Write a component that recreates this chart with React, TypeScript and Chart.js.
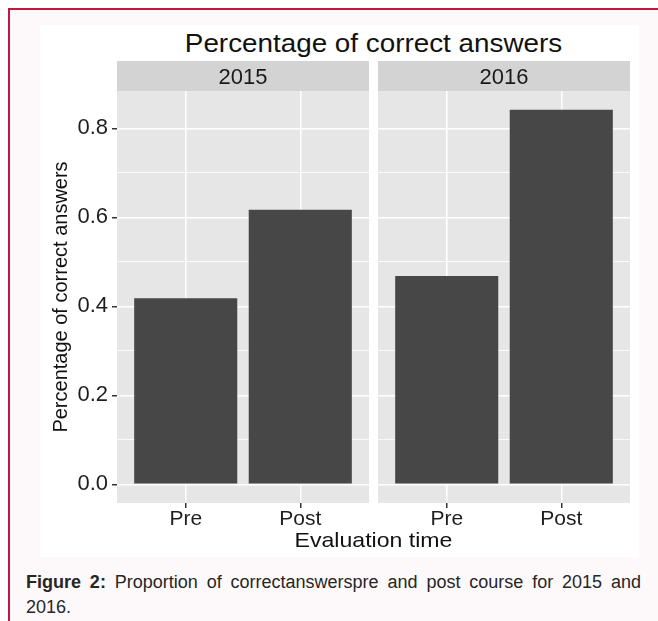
import React, { useEffect, useRef } from 'react';
import { Chart, registerables } from 'chart.js';

Chart.register(...registerables);

const FONT = "'Liberation Sans', Arial, Helvetica, sans-serif";

const categories = ['Pre', 'Post'];
const panelLabels = ['2015', '2016'];
const values2015 = [0.418, 0.617];
const values2016 = [0.468, 0.842];
const majorTicks = [0, 0.2, 0.4, 0.6, 0.8];
const minorTicks = [0.1, 0.3, 0.5, 0.7];
const chartTitle = 'Percentage of correct answers';
const yTitle = 'Percentage of correct answers';
const xTitle = 'Evaluation time';
const captionLead = 'Figure 2:';
const captionLine1 = ' Proportion of correctanswerspre and post course for 2015 and';
const captionLine2 = '2016.';

const allValues = [...values2015, ...values2016];
const yTop = Math.max(...allValues);
const yMin = -0.05 * yTop;
const yMax = yTop * 1.05;

const isMajor = (v: number) => majorTicks.some((m) => Math.abs(m - v) < 1e-9);

function makeChart(canvas: HTMLCanvasElement, label: string, values: number[], showY: boolean) {
  const stripPlugin = {
    id: 'strip',
    beforeDraw(chart: any) {
      const { ctx, chartArea: a } = chart;
      ctx.save();
      ctx.fillStyle = '#e6e6e6';
      ctx.fillRect(a.left, a.top, a.right - a.left, a.bottom - a.top);
      ctx.fillStyle = '#d3d3d3';
      ctx.fillRect(a.left, a.top - 30, a.right - a.left, 30);
      ctx.fillStyle = '#1a1a1a';
      ctx.font = `22px ${FONT}`;
      ctx.textAlign = 'center';
      ctx.textBaseline = 'alphabetic';
      ctx.fillText(label, (a.left + a.right) / 2, a.top - 7);
      ctx.restore();
    },
  };

  return new Chart(canvas, {
    type: 'bar',
    data: {
      datasets: [
        {
          data: values.map((v, i) => ({ x: i, y: v })),
          backgroundColor: '#474747',
          borderWidth: 0,
          categoryPercentage: 0.9,
          barPercentage: 1,
        },
      ],
    },
    plugins: [stripPlugin],
    options: {
      animation: false,
      responsive: true,
      maintainAspectRatio: false,
      layout: { padding: { top: 66, left: 0, right: 0, bottom: 0 } },
      plugins: { legend: { display: false }, tooltip: { enabled: false }, title: { display: false } },
      scales: {
        x: {
          type: 'linear',
          min: -0.6,
          max: 1.6,
          offset: false,
          afterBuildTicks: (scale: any) => {
            scale.ticks = categories.map((_, i) => ({ value: i }));
          },
          afterFit: (scale: any) => {
            scale.height = 54;
          },
          ticks: {
            autoSkip: false,
            maxRotation: 0,
            padding: 0,
            color: '#1e1e1e',
            font: { family: FONT, size: 21, lineHeight: 1.1 },
            callback: (value: any) => categories[Math.round(Number(value))] ?? '',
          },
          grid: {
            offset: false,
            color: '#ffffff',
            lineWidth: 1.5,
            drawTicks: true,
            tickLength: 5,
            tickColor: '#333333',
            tickWidth: 1.5,
          },
          border: { display: false },
        },
        y: {
          type: 'linear',
          min: yMin,
          max: yMax,
          afterBuildTicks: (scale: any) => {
            scale.ticks = [...majorTicks, ...minorTicks].sort((a, b) => a - b).map((v) => ({ value: v }));
          },
          afterFit: (scale: any) => {
            scale.width = showY ? 77 : 0;
          },
          ticks: {
            display: showY,
            autoSkip: false,
            padding: 4,
            color: '#1e1e1e',
            font: { family: FONT, size: 22 },
            callback: (value: any) => (isMajor(Number(value)) ? Number(value).toFixed(1) : ''),
          },
          grid: {
            color: '#ffffff',
            lineWidth: (ctx: any) => (ctx.tick && isMajor(ctx.tick.value) ? 1.5 : 0.8),
            drawTicks: showY,
            tickLength: 5,
            tickWidth: 1.5,
            tickColor: (ctx: any) => (ctx.tick && isMajor(ctx.tick.value) ? '#333333' : 'rgba(0,0,0,0)'),
          },
          border: { display: false },
          title: {
            display: showY,
            text: yTitle,
            color: '#111111',
            font: { family: FONT, size: 20, lineHeight: 1.2 },
            padding: { top: 9, bottom: 0 },
          },
        },
      },
    },
  } as any);
}

export default function App() {
  const refA = useRef<HTMLCanvasElement | null>(null);
  const refB = useRef<HTMLCanvasElement | null>(null);

  useEffect(() => {
    const a = makeChart(refA.current!, panelLabels[0], values2015, true);
    const b = makeChart(refB.current!, panelLabels[1], values2016, false);
    return () => {
      a.destroy();
      b.destroy();
    };
  }, []);

  return (
    <div
      style={{
        position: 'absolute',
        left: 0,
        top: 0,
        width: 658,
        height: 621,
        overflow: 'hidden',
        background: '#ffffff',
        fontFamily: FONT,
      }}
    >
      <div
        style={{
          position: 'absolute',
          left: 8,
          top: 8,
          width: 700,
          height: 700,
          borderLeft: '2px solid #c4173f',
          borderTop: '2px solid #c4173f',
          background: '#fdf9fa',
        }}
      />
      <div style={{ position: 'absolute', left: 40, top: 25, width: 599, height: 532, background: '#ffffff' }} />
      <div
        style={{
          position: 'absolute',
          left: 117,
          top: 30,
          width: 513,
          textAlign: 'center',
          fontSize: 26,
          lineHeight: '26px',
          color: '#111111',
          whiteSpace: 'nowrap',
          transform: 'scaleX(1.07)',
          transformOrigin: '256.5px 0',
        }}
      >
        {chartTitle}
      </div>
      <div style={{ position: 'absolute', left: 40, top: 25, width: 329, height: 532 }}>
        <canvas ref={refA} />
      </div>
      <div style={{ position: 'absolute', left: 378, top: 25, width: 252, height: 532 }}>
        <canvas ref={refB} />
      </div>
      <div
        style={{
          position: 'absolute',
          left: 117,
          top: 529,
          width: 513,
          textAlign: 'center',
          fontSize: 21,
          lineHeight: '21px',
          color: '#111111',
          whiteSpace: 'nowrap',
          transform: 'scaleX(1.1)',
          transformOrigin: '256.5px 0',
        }}
      >
        {xTitle}
      </div>
      <div
        style={{
          position: 'absolute',
          left: 26,
          top: 570,
          width: 615,
          fontSize: 18,
          lineHeight: '25px',
          color: '#262626',
        }}
      >
        <div style={{ textAlign: 'justify', textAlignLast: 'justify' as any, whiteSpace: 'nowrap' }}>
          <b>{captionLead}</b>
          {captionLine1}
        </div>
        <div>{captionLine2}</div>
      </div>
    </div>
  );
}
